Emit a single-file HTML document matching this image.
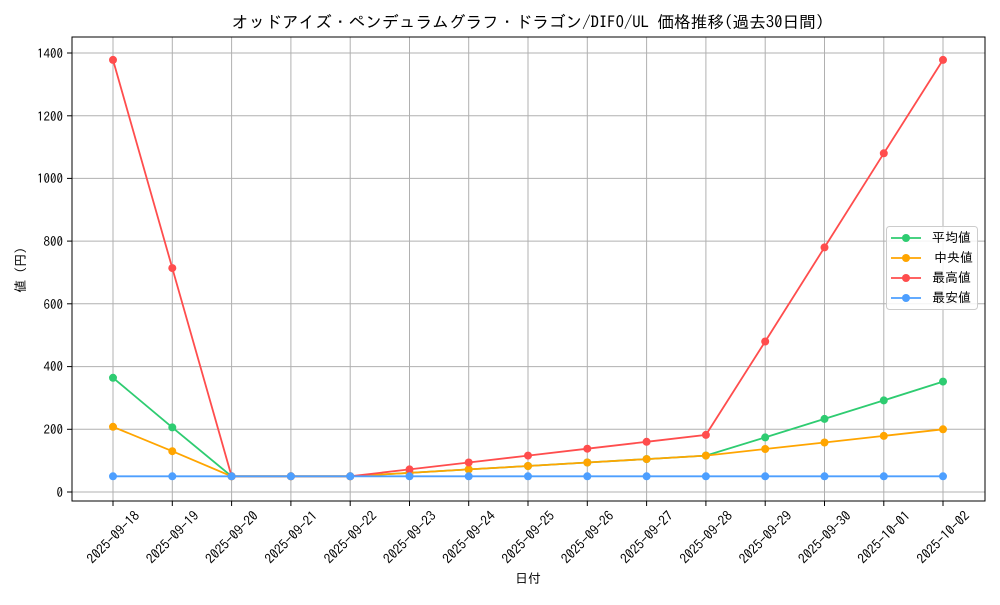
<!DOCTYPE html>
<html><head><meta charset="utf-8"><style>
body{margin:0;background:#fff}
svg text{font-family:"IPAGothic","Noto Sans CJK JP",sans-serif;fill:#000}
</style></head><body>
<svg width="1000" height="600" xmlns="http://www.w3.org/2000/svg">
<rect width="1000" height="600" fill="#fff"/>
<text x="528" y="28" font-size="16.7" text-anchor="middle">オッドアイズ・ペンデュラムグラフ・ドラゴン/DIFO/UL 価格推移(過去30日間)</text>
<g stroke="#b0b0b0" stroke-width="1">
<line x1="113" y1="37" x2="113" y2="501"/><line x1="172.3" y1="37" x2="172.3" y2="501"/><line x1="231.6" y1="37" x2="231.6" y2="501"/><line x1="290.9" y1="37" x2="290.9" y2="501"/><line x1="350.2" y1="37" x2="350.2" y2="501"/><line x1="409.5" y1="37" x2="409.5" y2="501"/><line x1="468.7" y1="37" x2="468.7" y2="501"/><line x1="528" y1="37" x2="528" y2="501"/><line x1="587.3" y1="37" x2="587.3" y2="501"/><line x1="646.6" y1="37" x2="646.6" y2="501"/><line x1="705.9" y1="37" x2="705.9" y2="501"/><line x1="765.2" y1="37" x2="765.2" y2="501"/><line x1="824.5" y1="37" x2="824.5" y2="501"/><line x1="883.8" y1="37" x2="883.8" y2="501"/><line x1="943" y1="37" x2="943" y2="501"/>
<line x1="72" y1="492" x2="985" y2="492"/><line x1="72" y1="429.3" x2="985" y2="429.3"/><line x1="72" y1="366.6" x2="985" y2="366.6"/><line x1="72" y1="303.8" x2="985" y2="303.8"/><line x1="72" y1="241.1" x2="985" y2="241.1"/><line x1="72" y1="178.4" x2="985" y2="178.4"/><line x1="72" y1="115.8" x2="985" y2="115.8"/><line x1="72" y1="53" x2="985" y2="53"/>
</g>
<rect x="72" y="37" width="913" height="464" fill="none" stroke="#000" stroke-width="1"/>
<g font-size="13" text-anchor="end">
<text x="63" y="497">0</text><text x="63" y="434">200</text><text x="63" y="371">400</text><text x="63" y="309">600</text><text x="63" y="246">800</text><text x="63" y="183">1000</text><text x="63" y="121">1200</text><text x="63" y="58">1400</text>
</g>
<g stroke="#000"><line x1="67" y1="492" x2="72" y2="492"/><line x1="67" y1="429.3" x2="72" y2="429.3"/><line x1="67" y1="366.6" x2="72" y2="366.6"/><line x1="67" y1="303.8" x2="72" y2="303.8"/><line x1="67" y1="241.1" x2="72" y2="241.1"/><line x1="67" y1="178.4" x2="72" y2="178.4"/><line x1="67" y1="115.8" x2="72" y2="115.8"/><line x1="67" y1="53" x2="72" y2="53"/>
<line x1="113" y1="501" x2="113" y2="506"/><line x1="172.3" y1="501" x2="172.3" y2="506"/><line x1="231.6" y1="501" x2="231.6" y2="506"/><line x1="290.9" y1="501" x2="290.9" y2="506"/><line x1="350.2" y1="501" x2="350.2" y2="506"/><line x1="409.5" y1="501" x2="409.5" y2="506"/><line x1="468.7" y1="501" x2="468.7" y2="506"/><line x1="528" y1="501" x2="528" y2="506"/><line x1="587.3" y1="501" x2="587.3" y2="506"/><line x1="646.6" y1="501" x2="646.6" y2="506"/><line x1="705.9" y1="501" x2="705.9" y2="506"/><line x1="765.2" y1="501" x2="765.2" y2="506"/><line x1="824.5" y1="501" x2="824.5" y2="506"/><line x1="883.8" y1="501" x2="883.8" y2="506"/><line x1="943" y1="501" x2="943" y2="506"/></g>
<g font-size="13.5" text-anchor="middle">
<text transform="translate(113,537) rotate(-45)" y="5">2025-09-18</text><text transform="translate(172.3,537) rotate(-45)" y="5">2025-09-19</text><text transform="translate(231.6,537) rotate(-45)" y="5">2025-09-20</text><text transform="translate(290.9,537) rotate(-45)" y="5">2025-09-21</text><text transform="translate(350.2,537) rotate(-45)" y="5">2025-09-22</text><text transform="translate(409.5,537) rotate(-45)" y="5">2025-09-23</text><text transform="translate(468.7,537) rotate(-45)" y="5">2025-09-24</text><text transform="translate(528,537) rotate(-45)" y="5">2025-09-25</text><text transform="translate(587.3,537) rotate(-45)" y="5">2025-09-26</text><text transform="translate(646.6,537) rotate(-45)" y="5">2025-09-27</text><text transform="translate(705.9,537) rotate(-45)" y="5">2025-09-28</text><text transform="translate(765.2,537) rotate(-45)" y="5">2025-09-29</text><text transform="translate(824.5,537) rotate(-45)" y="5">2025-09-30</text><text transform="translate(883.8,537) rotate(-45)" y="5">2025-10-01</text><text transform="translate(943,537) rotate(-45)" y="5">2025-10-02</text>
</g>
<text x="528" y="583" font-size="13" text-anchor="middle">日付</text>
<text transform="translate(25,270) rotate(-90)" font-size="13" text-anchor="middle">値 (円)</text>
<polyline fill="none" stroke="#2ecc71" stroke-width="1.8" points="113,377.8 172.3,427.4 231.6,476.3 290.9,476.3 350.2,476.3 409.5,472.9 468.7,469.4 528,466 587.3,462.5 646.6,459.1 705.9,455.6 765.2,437.4 824.5,418.9 883.8,400.4 943,381.6"/>
<g fill="#2ecc71"><circle cx="113" cy="377.8" r="4"/><circle cx="172.3" cy="427.4" r="4"/><circle cx="231.6" cy="476.3" r="4"/><circle cx="290.9" cy="476.3" r="4"/><circle cx="350.2" cy="476.3" r="4"/><circle cx="409.5" cy="472.9" r="4"/><circle cx="468.7" cy="469.4" r="4"/><circle cx="528" cy="466" r="4"/><circle cx="587.3" cy="462.5" r="4"/><circle cx="646.6" cy="459.1" r="4"/><circle cx="705.9" cy="455.6" r="4"/><circle cx="765.2" cy="437.4" r="4"/><circle cx="824.5" cy="418.9" r="4"/><circle cx="883.8" cy="400.4" r="4"/><circle cx="943" cy="381.6" r="4"/></g>
<polyline fill="none" stroke="#ffa500" stroke-width="1.8" points="113,426.8 172.3,451.2 231.6,476.3 290.9,476.3 350.2,476.3 409.5,472.9 468.7,469.4 528,466 587.3,462.5 646.6,459.1 705.9,455.6 765.2,449 824.5,442.5 883.8,435.9 943,429.3"/>
<g fill="#ffa500"><circle cx="113" cy="426.8" r="4"/><circle cx="172.3" cy="451.2" r="4"/><circle cx="231.6" cy="476.3" r="4"/><circle cx="290.9" cy="476.3" r="4"/><circle cx="350.2" cy="476.3" r="4"/><circle cx="409.5" cy="472.9" r="4"/><circle cx="468.7" cy="469.4" r="4"/><circle cx="528" cy="466" r="4"/><circle cx="587.3" cy="462.5" r="4"/><circle cx="646.6" cy="459.1" r="4"/><circle cx="705.9" cy="455.6" r="4"/><circle cx="765.2" cy="449" r="4"/><circle cx="824.5" cy="442.5" r="4"/><circle cx="883.8" cy="435.9" r="4"/><circle cx="943" cy="429.3" r="4"/></g>
<polyline fill="none" stroke="#ff4d4d" stroke-width="1.8" points="113,59.9 172.3,268.1 231.6,476.3 290.9,476.3 350.2,476.3 409.5,469.4 468.7,462.5 528,455.6 587.3,448.7 646.6,441.8 705.9,434.9 765.2,341.5 824.5,247.4 883.8,153.3 943,59.9"/>
<g fill="#ff4d4d"><circle cx="113" cy="59.9" r="4"/><circle cx="172.3" cy="268.1" r="4"/><circle cx="231.6" cy="476.3" r="4"/><circle cx="290.9" cy="476.3" r="4"/><circle cx="350.2" cy="476.3" r="4"/><circle cx="409.5" cy="469.4" r="4"/><circle cx="468.7" cy="462.5" r="4"/><circle cx="528" cy="455.6" r="4"/><circle cx="587.3" cy="448.7" r="4"/><circle cx="646.6" cy="441.8" r="4"/><circle cx="705.9" cy="434.9" r="4"/><circle cx="765.2" cy="341.5" r="4"/><circle cx="824.5" cy="247.4" r="4"/><circle cx="883.8" cy="153.3" r="4"/><circle cx="943" cy="59.9" r="4"/></g>
<polyline fill="none" stroke="#4d9fff" stroke-width="1.8" points="113,476.3 943,476.3"/>
<g fill="#4d9fff"><circle cx="113" cy="476.3" r="4"/><circle cx="172.3" cy="476.3" r="4"/><circle cx="231.6" cy="476.3" r="4"/><circle cx="290.9" cy="476.3" r="4"/><circle cx="350.2" cy="476.3" r="4"/><circle cx="409.5" cy="476.3" r="4"/><circle cx="468.7" cy="476.3" r="4"/><circle cx="528" cy="476.3" r="4"/><circle cx="587.3" cy="476.3" r="4"/><circle cx="646.6" cy="476.3" r="4"/><circle cx="705.9" cy="476.3" r="4"/><circle cx="765.2" cy="476.3" r="4"/><circle cx="824.5" cy="476.3" r="4"/><circle cx="883.8" cy="476.3" r="4"/><circle cx="943" cy="476.3" r="4"/></g>
<rect x="886.5" y="226.5" width="91" height="83" rx="3" fill="#fff" fill-opacity="0.85" stroke="#ccc"/>
<g stroke-width="1.8">
<line x1="891" y1="238" x2="921" y2="238" stroke="#2ecc71"/><circle cx="906" cy="238" r="4" fill="#2ecc71"/>
<line x1="891" y1="258" x2="921" y2="258" stroke="#ffa500"/><circle cx="906" cy="258" r="4" fill="#ffa500"/>
<line x1="891" y1="278" x2="921" y2="278" stroke="#ff4d4d"/><circle cx="906" cy="278" r="4" fill="#ff4d4d"/>
<line x1="891" y1="298" x2="921" y2="298" stroke="#4d9fff"/><circle cx="906" cy="298" r="4" fill="#4d9fff"/>
</g>
<g font-size="13"><text x="932" y="242">平均値</text><text x="934" y="262">中央値</text><text x="932" y="282">最高値</text><text x="932" y="302">最安値</text></g>
</svg>
</body></html>
